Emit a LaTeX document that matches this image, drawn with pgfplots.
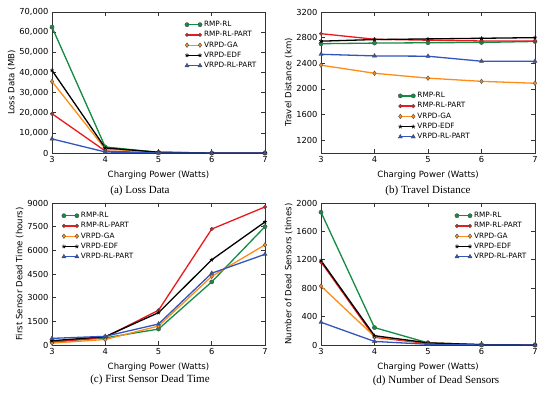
\documentclass[border=0pt]{standalone}
\usepackage{fontspec}
\setmainfont{DejaVu Sans}
\newfontfamily\capfont{Liberation Serif}
\usepackage{pgfplots}
\pgfplotsset{compat=1.18}
\definecolor{cgreen}{RGB}{20,140,70}
\definecolor{cred}{RGB}{235,25,30}
\definecolor{corange}{RGB}{255,140,25}
\definecolor{cblue}{RGB}{50,85,190}
\pgfplotsset{
  every axis/.append style={
    scale only axis,
    xmin=3, xmax=7, xtick={3,4,5,6,7},
    tick align=inside,
    major tick length=4pt,
    axis line style={black!80, line width=0.7pt},
    every tick/.style={black!80, line width=0.6pt},
    tick label style={font=\fontsize{8.3}{9}\selectfont},
    label style={font=\fontsize{8.6}{10}\selectfont},
    xlabel={Charging Power (Watts)},
    /pgf/number format/assume math mode=true,
    legend style={draw=none, fill=none, font=\fontsize{7.3}{8}\selectfont, row sep=-0.6pt, inner sep=0pt},
    legend cell align=left,
    legend image code/.code={\draw[mark repeat=2, mark phase=1, #1] plot coordinates {(0pt,0pt) (6.5pt,0pt) (13pt,0pt)};},
    xlabel style={yshift=-1pt},
    ylabel style={yshift=-3pt},
  },
  s1/.style={cgreen, line width=1.3pt, mark=*, mark size=2.1pt, mark options={fill=cgreen, draw=black!70, line width=0.4pt}},
  s2/.style={cred, line width=1.3pt, mark=*, mark size=1.8pt, mark options={fill=cred, draw=black!70, line width=0.4pt}},
  s3/.style={corange, line width=1.3pt, mark=diamond*, mark size=2.3pt, mark options={fill=corange, draw=black!70, line width=0.4pt}},
  s4/.style={black, line width=1.3pt, mark=star, mark size=2pt, mark options={draw=black, line width=0.7pt}},
  s5/.style={cblue, line width=1.3pt, mark=triangle*, mark size=2.4pt, mark options={fill=cblue, draw=black!70, line width=0.4pt}},
}
\begin{document}
\begin{tikzpicture}
\path (0pt,0pt) rectangle (550pt,396pt);
% (a) Loss Data
\begin{axis}[at={(52pt,243pt)}, anchor=south west, width=213pt, height=141pt,
  ymin=0, ymax=70000, ytick={0,10000,...,70000},
  /pgf/number format/1000 sep={,}, scaled y ticks=false,
  ylabel={Loss Data (MB)},
  legend style={at={(0.97,0.95)}, anchor=north east}]
\addplot[s1] coordinates {(3,62500) (4,3000) (5,300) (6,0) (7,0)};
\addplot[s2] coordinates {(3,19500) (4,1000) (5,0) (6,0) (7,0)};
\addplot[s3] coordinates {(3,35500) (4,2000) (5,300) (6,0) (7,0)};
\addplot[s4] coordinates {(3,41000) (4,2500) (5,400) (6,0) (7,0)};
\addplot[s5] coordinates {(3,7000) (4,500) (5,0) (6,0) (7,0)};
\legend{RMP-RL, RMP-RL-PART, VRPD-GA, VRPD-EDF, VRPD-RL-PART}
\end{axis}
% (b) Travel Distance
\begin{axis}[at={(321pt,243pt)}, anchor=south west, width=214pt, height=141pt,
  ymin=1000, ymax=3200, ytick={1200,1600,...,3200},
  /pgf/number format/1000 sep={},
  ylabel={Travel Distance (km)},
  legend style={at={(0.36,0.445)}, anchor=north west}]
\addplot[s1] coordinates {(3,2705) (4,2715) (5,2720) (6,2725) (7,2740)};
\addplot[s2] coordinates {(3,2862) (4,2775) (5,2760) (6,2748) (7,2748)};
\addplot[s3] coordinates {(3,2370) (4,2244) (5,2168) (6,2118) (7,2088)};
\addplot[s4] coordinates {(3,2745) (4,2770) (5,2780) (6,2790) (7,2800)};
\addplot[s5] coordinates {(3,2540) (4,2515) (5,2510) (6,2432) (7,2432)};
\legend{RMP-RL, RMP-RL-PART, VRPD-GA, VRPD-EDF, VRPD-RL-PART}
\end{axis}
% (c) First Sensor Dead Time
\begin{axis}[at={(52pt,51pt)}, anchor=south west, width=213pt, height=142pt,
  ymin=0, ymax=9000, ytick={0,1500,...,9000},
  /pgf/number format/1000 sep={},
  ylabel={First Sensor Dead Time (hours)},
  legend style={at={(0.045,0.95)}, anchor=north west}]
\addplot[s1] coordinates {(3,200) (4,450) (5,1010) (6,4000) (7,7500)};
\addplot[s2] coordinates {(3,180) (4,500) (5,2200) (6,7350) (7,8750)};
\addplot[s3] coordinates {(3,120) (4,350) (5,1200) (6,4350) (7,6350)};
\addplot[s4] coordinates {(3,270) (4,530) (5,2050) (6,5400) (7,7800)};
\addplot[s5] coordinates {(3,420) (4,550) (5,1330) (6,4550) (7,5750)};
\legend{RMP-RL, RMP-RL-PART, VRPD-GA, VRPD-EDF, VRPD-RL-PART}
\end{axis}
% (d) Number of Dead Sensors
\begin{axis}[at={(321pt,51pt)}, anchor=south west, width=214pt, height=142pt,
  ymin=0, ymax=2000, ytick={0,400,...,2000},
  /pgf/number format/1000 sep={},
  ylabel={Number of Dead Sensors (times)},
  legend style={at={(0.97,0.95)}, anchor=north east}]
\addplot[s1] coordinates {(3,1870) (4,245) (5,30) (6,5) (7,0)};
\addplot[s2] coordinates {(3,1170) (4,108) (5,20) (6,0) (7,0)};
\addplot[s3] coordinates {(3,830) (4,120) (5,30) (6,5) (7,0)};
\addplot[s4] coordinates {(3,1190) (4,131) (5,30) (6,5) (7,0)};
\addplot[s5] coordinates {(3,320) (4,50) (5,10) (6,0) (7,0)};
\legend{RMP-RL, RMP-RL-PART, VRPD-GA, VRPD-EDF, VRPD-RL-PART}
\end{axis}
\node[font=\capfont\fontsize{11}{12}\selectfont] at (140pt,205pt) {(a) Loss Data};
\node[font=\capfont\fontsize{11}{12}\selectfont] at (428pt,205pt) {(b) Travel Distance};
\node[font=\capfont\fontsize{11}{12}\selectfont] at (150pt,16pt) {(c) First Sensor Dead Time};
\node[font=\capfont\fontsize{11}{12}\selectfont] at (436pt,15pt) {(d) Number of Dead Sensors};
\end{tikzpicture}
\end{document}
